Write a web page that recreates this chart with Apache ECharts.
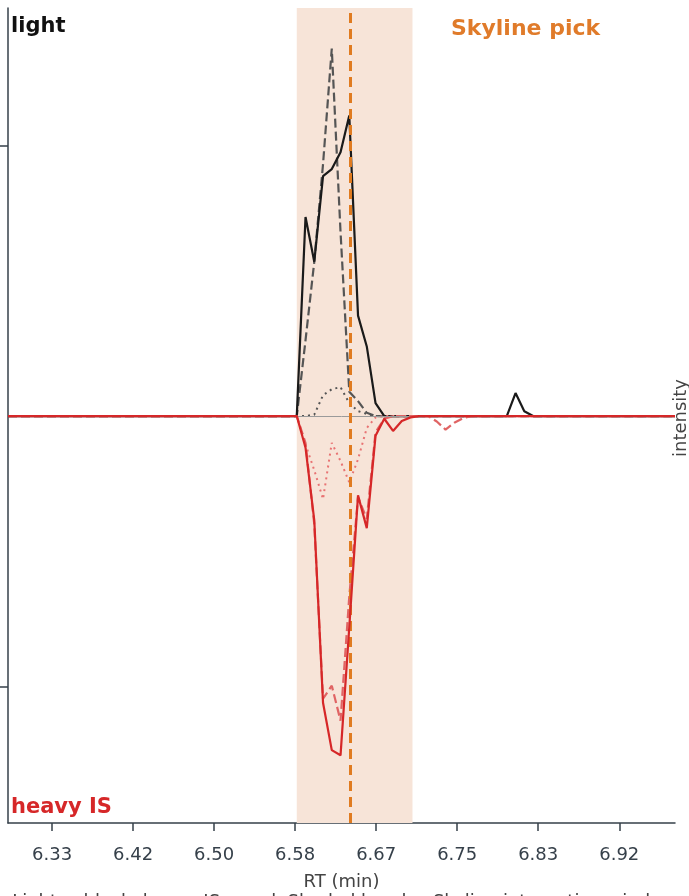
<!DOCTYPE html>
<html><head><meta charset="utf-8">
<script src="https://cdn.jsdelivr.net/npm/echarts@6/dist/echarts.min.js"></script>
<style>html,body{margin:0;padding:0;background:#fff}#c{width:689px;height:896px}</style>
</head><body><div id="c"></div>
<script>
// retention time grid (min)
const rt = [6.288, 6.576, 6.585, 6.594, 6.603, 6.612, 6.621, 6.630, 6.639, 6.648, 6.657, 6.666, 6.675, 6.684, 6.693, 6.702, 6.711, 6.720, 6.729, 6.738, 6.747, 6.756, 6.765, 6.792, 6.801, 6.810, 6.819, 6.828, 6.837, 6.974];
// light (positive, normalised)
const lightTotal = [0, 0, 0, 0.735, 0.570, 0.886, 0.912, 0.974, 1.110, 0.371, 0.257, 0.048, 0, 0, 0, 0, 0, 0, 0, 0, 0, 0, 0, 0, 0, 0.085, 0.018, 0, 0, 0];
const lightFragA = [0, 0, 0, 0.28, 0.57, 0.93, 1.357, 0.68, 0.09, 0.055, 0.012, 0, 0, 0, 0, 0, 0, 0, 0, 0, 0, 0, 0, 0, 0, 0, 0, 0, 0, 0];
const lightFragB = [0, 0, 0, 0, 0.005, 0.077, 0.099, 0.107, 0.048, 0.018, 0.008, 0, 0, 0, 0, 0, 0, 0, 0, 0, 0, 0, 0, 0, 0, 0, 0, 0, 0, 0];
// heavy IS (mirrored, negative)
const heavyTotal = [0, 0, 0, -0.117, -0.385, -1.059, -1.234, -1.253, -0.78, -0.293, -0.414, -0.073, -0.01, -0.055, -0.018, -0.005, 0, 0, 0, 0, 0, 0, 0, 0, 0, 0, 0, 0, 0, 0];
const heavyFragA = [0, 0, 0, -0.10, -0.40, -1.044, -0.996, -1.125, -0.667, -0.30, -0.38, -0.06, -0.01, 0, 0, 0, 0, 0, -0.02, -0.05, -0.025, -0.008, 0, 0, 0, 0, 0, 0, 0, 0];
const heavyFragB = [0, 0, 0, -0.105, -0.20, -0.307, -0.099, -0.166, -0.245, -0.16, -0.044, -0.005, 0, 0, 0, 0, 0, 0, 0, 0, 0, 0, 0, 0, 0, 0, 0, 0, 0, 0];
// integration window and pick
const windowStart = 6.585, windowEnd = 6.704, pickRT = 6.639;
// tick values
const xTicks = [6.3333, 6.4167, 6.5, 6.5833, 6.6667, 6.75, 6.8333, 6.9167];
const yTicks = [-1, 1];

const pairs = v => rt.map((t, i) => [t, v[i]]);
const axisCol = '#36404a';
const FONT = 'DejaVu Sans';

const chart = echarts.init(document.getElementById('c'), null, {renderer: 'canvas'});
function line(name, data, color, type, width, z) {
  return {name, type: 'line', data: pairs(data), symbol: 'none', z,
    lineStyle: {color, width, type}, animation: false};
}
chart.setOption({
  animation: false,
  grid: {left: 8, right: 14, top: 8, bottom: 67},
  xAxis: {
    type: 'value', min: 6.288, max: 6.974,
    axisLine: {show: true, onZero: false, lineStyle: {color: axisCol, width: 1.5}},
    axisTick: {show: true, customValues: xTicks, length: 8, lineStyle: {color: axisCol, width: 1.5}},
    axisLabel: {customValues: xTicks, formatter: v => v.toFixed(2), fontSize: 18, color: axisCol, fontFamily: FONT, margin: 23},
    splitLine: {show: false},
    name: 'RT (min)', nameLocation: 'middle', nameGap: 50,
    nameTextStyle: {fontSize: 18, color: '#444', fontFamily: FONT}
  },
  yAxis: {
    type: 'value', min: -1.503, max: 1.507,
    axisLine: {show: true, onZero: false, lineStyle: {color: axisCol, width: 1.5}},
    axisTick: {show: true, customValues: yTicks, length: 8, lineStyle: {color: axisCol, width: 1.5}},
    axisLabel: {show: false},
    splitLine: {show: false}
  },
  series: [
    {type: 'line', data: [], z: 0, silent: true,
      markArea: {silent: true, itemStyle: {color: '#f7e4d8'}, data: [[{xAxis: windowStart}, {xAxis: windowEnd}]]},
      markLine: {silent: true, symbol: 'none', label: {show: false},
        lineStyle: {color: '#9a9a9a', width: 1, type: 'solid'}, data: [{yAxis: 0}]}},
    line('light frag 2', lightFragB, '#555555', [2, 4], 2, 2),
    line('light frag 1', lightFragA, '#555555', [9, 4], 2.2, 2),
    line('light', lightTotal, '#1a1a1a', 'solid', 2.2, 3),
    line('heavy frag 2', heavyFragB, '#e87373', [2, 4], 2, 4),
    line('heavy frag 1', heavyFragA, '#e06464', [9, 4], 2.2, 4),
    line('heavy IS', heavyTotal, '#d62728', 'solid', 2.2, 5),
    {type: 'line', data: [], z: 10, silent: true,
      markLine: {silent: true, symbol: 'none', label: {show: false},
        lineStyle: {color: '#e07b20', width: 3, type: [10, 6]}, data: [{xAxis: pickRT}]}}
  ],
  graphic: [
    {type: 'text', left: 11, top: 16, style: {text: 'light', font: 'bold 21px "DejaVu Sans"', fill: '#111'}},
    {type: 'text', left: 11, top: 797, style: {text: 'heavy IS', font: 'bold 21px "DejaVu Sans"', fill: '#d62728'}},
    {type: 'text', left: 451, top: 18, style: {text: 'Skyline pick', font: 'bold 22px "DejaVu Sans"', fill: '#e07b2a'}},
    {type: 'text', x: 681, y: 418, rotation: Math.PI / 2,
      style: {text: 'intensity', font: '18px "DejaVu Sans"', fill: '#444', align: 'center', verticalAlign: 'middle'}},
    {type: 'text', x: 344, y: 902,
      style: {text: 'Light = black, heavy IS = red. Shaded band = Skyline integration window', font: '18px "DejaVu Sans"', fill: '#444', align: 'center', verticalAlign: 'middle'}}
  ]
});
</script></body></html>
